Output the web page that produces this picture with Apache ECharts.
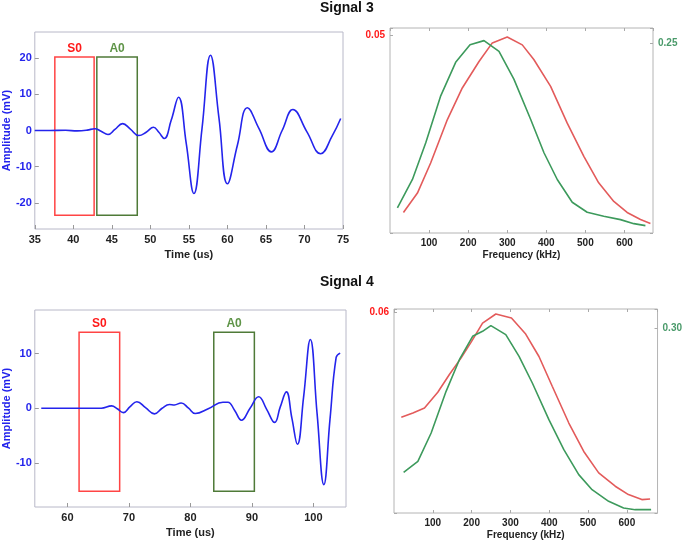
<!DOCTYPE html>
<html><head><meta charset="utf-8">
<script src="https://cdn.jsdelivr.net/npm/echarts@6/dist/echarts.min.js"></script>
<style>html,body{margin:0;padding:0;background:#fff}#c{width:685px;height:542px}</style>
</head><body><div id="c"></div>
<script>
// ---- Signal 3: time waveform ----
const time3 = [35, 37, 39, 40.5, 41.8, 42.8, 43.6, 44.5, 45.4, 46.4, 47.4, 48.5, 49.5, 50.4, 51.1, 51.8, 52.7, 53.65, 54.65, 55.65, 56.7, 57.8, 58.9, 60.0, 61.3, 62.6, 64.1, 65.7, 67.1, 68.5, 70.3, 72.1, 73.6, 74.7];
const amp3  = [0, 0, 0.05, -0.1, 0.1, 0.5, -0.2, -1.1, 0.3, 1.9, 0.4, -1.4, -0.4, 0.9, -0.5, -2.2, 2.8, 9.2, -3.5, -17.4, 0.5, 20.8, 3.5, -14.7, -4, 6.3, 0.5, -5.9, 0, 5.8, -0.3, -6.4, -1.5, 3.3];
const s0Box3 = [37.6, 42.7, -23.4, 20.3];
const a0Box3 = [43.05, 48.3, -23.4, 20.3];
// ---- Signal 3: spectra ----
const freq3Red = [34.4, 70.2, 104, 146.8, 185, 227.8, 261.8, 300, 338.5, 368, 411, 453.5, 496, 534, 572.7, 606.8, 641, 666.4];
const spec3Red = [0.0052, 0.0101, 0.0177, 0.0287, 0.0367, 0.0434, 0.0481, 0.0496, 0.0476, 0.0439, 0.0371, 0.0278, 0.0194, 0.0127, 0.0080, 0.0052, 0.0034, 0.0024];
const freq3Green = [19, 57.4, 91.5, 129.8, 168, 204.8, 240.5, 278.9, 317, 359.8, 394, 428, 466.3, 504.6, 547, 589.8, 624, 653.6];
const spec3Green = [0.0330, 0.0704, 0.1188, 0.1805, 0.2245, 0.2478, 0.2531, 0.2390, 0.2025, 0.1496, 0.1056, 0.0704, 0.0405, 0.0273, 0.0220, 0.0176, 0.0123, 0.0097];
// ---- Signal 4: time waveform ----
const time4 = [55.75, 58, 61, 64, 65.5, 67.2, 68.1, 69.1, 70.2, 71.3, 72.7, 74.15, 75.4, 76.6, 77.4, 78.5, 79.7, 80.8, 82.9, 85.3, 86.1, 87.2, 88.3, 89.7, 91.1, 92.4, 93.7, 94.6, 95.6, 96.5, 97.4, 98.4, 99.5, 100.6, 101.7, 102.7, 103.7, 104.35];
const amp4  = [0, 0, 0, 0, 0, 0.43, -0.1, -0.8, 0.3, 1.2, 0.1, -1.03, 0, 0.67, 0.6, 0.97, 0, -0.97, -0.1, 1.1, 1.1, -0.4, -2.2, 0, 2.1, -0.2, -2.6, 0.2, 3.0, -1.8, -6.6, 2, 12.6, -1, -14.0, -2, 9.3, 10.1];
const s0Box4 = [61.9, 68.5, -15.2, 13.9];
const a0Box4 = [83.8, 90.4, -15.2, 13.9];
// ---- Signal 4: spectra ----
const freq4Red = [18.8, 48.7, 78.6, 112.8, 142.7, 172.6, 198.3, 228.2, 262.4, 302.6, 339.3, 373.5, 407.7, 450.4, 488.9, 527.4, 570, 604, 638.5, 659.8];
const spec4Red = [0.0286, 0.0299, 0.0314, 0.0361, 0.0414, 0.0463, 0.0510, 0.0568, 0.0595, 0.0583, 0.0535, 0.0468, 0.0379, 0.0269, 0.0184, 0.0120, 0.0080, 0.0055, 0.0040, 0.0042];
const freq4Green = [24.8, 61.5, 95.7, 134.2, 168.4, 202.6, 228.2, 249.6, 288, 322.2, 356.4, 399.1, 437.6, 476, 510.3, 553, 591.5, 621.4, 662.4];
const spec4Green = [0.0659, 0.0838, 0.1297, 0.1973, 0.2486, 0.2865, 0.2946, 0.3038, 0.2892, 0.2541, 0.2108, 0.1514, 0.1027, 0.0622, 0.0378, 0.0189, 0.0081, 0.0054, 0.0054];
// tick labels shown
const titles = ['Signal 3', 'Signal 4'];
const redTick = [0.05, 0.06];
const greenTick = [0.25, 0.30];

const FONT = 'Liberation Sans, Arial, sans-serif';
const BLUE = '#2424ec', RED = '#ff1a1a', OLIVE = '#4f7a38', OLIVE_TXT = '#5f9448';
const LRED = '#e35b5b', LGREEN = '#3d9a5c', GTXT = '#4a9a6a';
const pairs = (xs, ys) => xs.map((x, i) => [x, ys[i]]);
const box = (b, name) => [{name: name, coord: [b[0], b[3]]}, {coord: [b[1], b[2]]}];
const onlyTick = (t) => (v) => Math.abs(v - t) < 1e-9 ? t.toFixed(2) : '';

function timeX(grid, min, max, interval) {
  const a = {type: 'value', gridIndex: grid, min: min, max: max, name: 'Time (us)', nameLocation: 'middle', nameGap: 20,
    nameTextStyle: {fontFamily: FONT, fontWeight: 'bold', fontSize: 11, color: '#222'},
    axisLine: {show: false, onZero: false}, axisTick: {inside: true, length: 4, lineStyle: {color: '#999'}},
    splitLine: {show: false},
    axisLabel: {fontFamily: FONT, fontWeight: 'bold', fontSize: 11, color: '#222', margin: 5, showMinLabel: interval ? true : false, showMaxLabel: interval ? true : false}};
  if (interval) a.interval = interval;
  return a;
}
function ampY(grid, min, max) {
  return {type: 'value', gridIndex: grid, min: min, max: max, name: 'Amplitude (mV)', nameLocation: 'middle', nameGap: 19,
    nameTextStyle: {fontFamily: FONT, fontWeight: 'bold', fontSize: 11, color: BLUE},
    axisLine: {show: false, onZero: false}, axisTick: {inside: true, length: 4, lineStyle: {color: '#999'}},
    splitLine: {show: false},
    axisLabel: {fontFamily: FONT, fontWeight: 'bold', fontSize: 11, color: BLUE, margin: 3, showMinLabel: false, showMaxLabel: false}};
}
function freqX(grid, max, pos) {
  const top = pos === 'top';
  return {type: 'value', gridIndex: grid, min: 0, max: max, interval: 100, position: pos,
    name: top ? '' : 'Frequency (kHz)', nameLocation: 'middle', nameGap: 17,
    nameTextStyle: {fontFamily: FONT, fontWeight: 'bold', fontSize: 10, color: '#222'},
    axisLine: {show: false, onZero: false}, axisTick: {inside: true, length: 3, lineStyle: {color: '#aaa'}},
    splitLine: {show: false},
    axisLabel: {show: !top, fontFamily: FONT, fontWeight: 'bold', fontSize: 10, color: '#222', margin: 5, showMinLabel: false, showMaxLabel: false}};
}
function specY(grid, max, tick, pos, color) {
  return {type: 'value', gridIndex: grid, min: 0, max: max, interval: tick, position: pos,
    axisLine: {show: false, onZero: false}, axisTick: {inside: true, length: 3, lineStyle: {color: '#aaa'}},
    splitLine: {show: false},
    axisLabel: {fontFamily: FONT, fontWeight: 'bold', fontSize: 10, color: color, margin: 5, formatter: onlyTick(tick)}};
}
function boxesArea(b1, b2) {
  const lbl = (c) => ({show: true, position: 'top', distance: 2, color: c, fontFamily: FONT, fontWeight: 'bold', fontSize: 12});
  return {silent: true, data: [box(b1, 'S0'), box(b2, 'A0')].map((d, i) => {
    const col = i === 0 ? '#ff4444' : OLIVE;
    d[0].itemStyle = {color: 'rgba(0,0,0,0)', borderColor: col, borderWidth: 1.5};
    d[0].label = lbl(i === 0 ? RED : OLIVE_TXT);
    return d;
  })};
}

const gridBase = {show: true, borderColor: '#b8b8c8', borderWidth: 1, backgroundColor: 'transparent', containLabel: false};
const option = {
  animation: false,
  title: [
    {text: titles[0], left: 320, top: 1, padding: 0, textStyle: {fontFamily: FONT, fontWeight: 'bold', fontSize: 14, color: '#111'}},
    {text: titles[1], left: 320, top: 275, padding: 0, textStyle: {fontFamily: FONT, fontWeight: 'bold', fontSize: 14, color: '#111'}}
  ],
  grid: [
    Object.assign({}, gridBase, {left: 32, top: 32, width: 311, height: 197}),
    Object.assign({}, gridBase, {left: 390, top: 28, width: 263, height: 205, borderColor: '#b4b4b4'}),
    Object.assign({}, gridBase, {left: 34, top: 310, width: 312, height: 197}),
    Object.assign({}, gridBase, {left: 394, top: 309, width: 265, height: 204, borderColor: '#b4b4b4'})
  ],
  xAxis: [
    timeX(0, 35, 75, 5),
    freqX(1, 673, 'bottom'),
    freqX(1, 673, 'top'),
    timeX(2, 54.7, 105.3, null),
    freqX(3, 679, 'bottom'),
    freqX(3, 679, 'top')
  ],
  yAxis: [
    ampY(0, -27.2, 27.2),
    specY(1, 0.05187, redTick[0], 'left', RED),
    specY(1, 0.2697, greenTick[0], 'right', GTXT),
    ampY(2, -18.1, 18.0),
    specY(3, 0.0610, redTick[1], 'left', RED),
    specY(3, 0.3308, greenTick[1], 'right', GTXT)
  ],
  series: [
    {type: 'line', xAxisIndex: 0, yAxisIndex: 0, data: pairs(time3, amp3), smooth: 0.45, showSymbol: false,
     lineStyle: {color: BLUE, width: 1.6}, markArea: boxesArea(s0Box3, a0Box3)},
    {type: 'line', xAxisIndex: 1, yAxisIndex: 1, data: pairs(freq3Red, spec3Red), showSymbol: false, lineStyle: {color: LRED, width: 1.6}},
    {type: 'line', xAxisIndex: 1, yAxisIndex: 2, data: pairs(freq3Green, spec3Green), showSymbol: false, lineStyle: {color: LGREEN, width: 1.6}},
    {type: 'line', xAxisIndex: 3, yAxisIndex: 3, data: pairs(time4, amp4), smooth: 0.45, showSymbol: false,
     lineStyle: {color: BLUE, width: 1.6}, markArea: boxesArea(s0Box4, a0Box4)},
    {type: 'line', xAxisIndex: 4, yAxisIndex: 4, data: pairs(freq4Red, spec4Red), showSymbol: false, lineStyle: {color: LRED, width: 1.6}},
    {type: 'line', xAxisIndex: 4, yAxisIndex: 5, data: pairs(freq4Green, spec4Green), showSymbol: false, lineStyle: {color: LGREEN, width: 1.6}}
  ]
};
echarts.init(document.getElementById('c')).setOption(option);
</script></body></html>
